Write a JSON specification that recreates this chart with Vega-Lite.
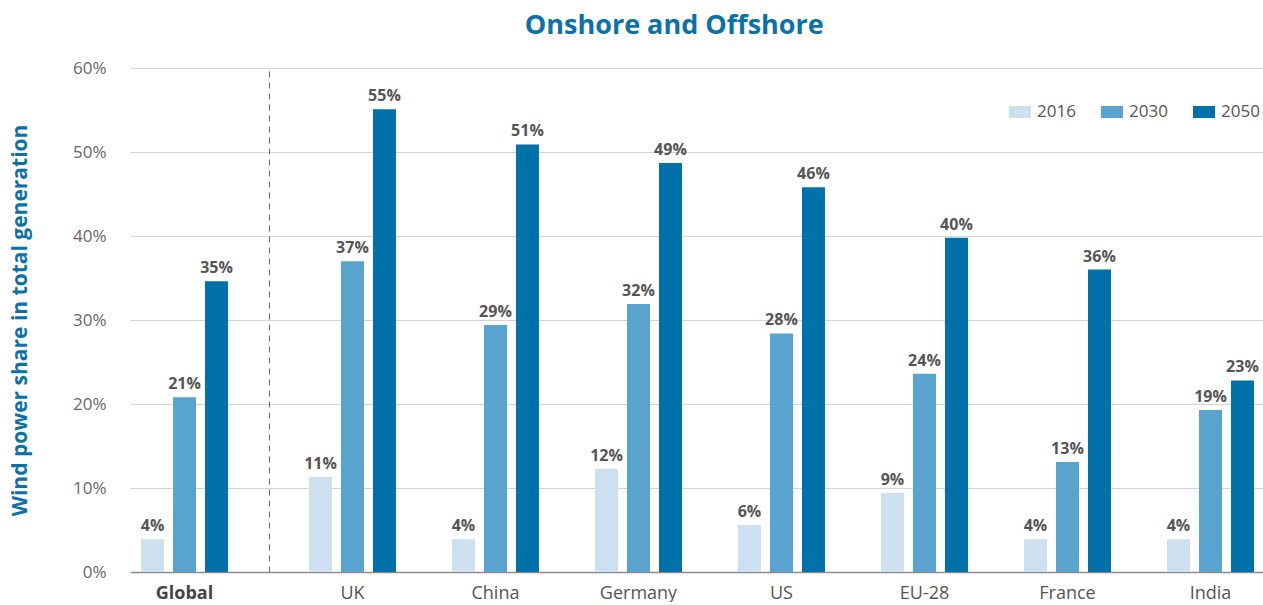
{
  "$schema": "https://vega.github.io/schema/vega-lite/v6.json",
  "padding": {"left": 9, "top": 12, "right": 0, "bottom": 0},
  "background": "white",
  "bounds": "flush",
  "spacing": 0,
  "title": {"text": "Onshore and Offshore", "fontSize": 27, "font": "Open Sans", "fontWeight": "bold", "color": "#0a72a9", "anchor": "middle", "offset": 19, "dx": 38},
  "config": {"view": {"stroke": null}, "font": "Open Sans"},
  "data": {"values": [
    {"region": "Global", "year": "2016", "value": 0.039},
    {"region": "Global", "year": "2030", "value": 0.208},
    {"region": "Global", "year": "2050", "value": 0.346},
    {"region": "UK", "year": "2016", "value": 0.113},
    {"region": "UK", "year": "2030", "value": 0.370},
    {"region": "UK", "year": "2050", "value": 0.551},
    {"region": "China", "year": "2016", "value": 0.039},
    {"region": "China", "year": "2030", "value": 0.294},
    {"region": "China", "year": "2050", "value": 0.509},
    {"region": "Germany", "year": "2016", "value": 0.123},
    {"region": "Germany", "year": "2030", "value": 0.319},
    {"region": "Germany", "year": "2050", "value": 0.487},
    {"region": "US", "year": "2016", "value": 0.056},
    {"region": "US", "year": "2030", "value": 0.284},
    {"region": "US", "year": "2050", "value": 0.458},
    {"region": "EU-28", "year": "2016", "value": 0.094},
    {"region": "EU-28", "year": "2030", "value": 0.236},
    {"region": "EU-28", "year": "2050", "value": 0.398},
    {"region": "France", "year": "2016", "value": 0.039},
    {"region": "France", "year": "2030", "value": 0.131},
    {"region": "France", "year": "2050", "value": 0.360},
    {"region": "India", "year": "2016", "value": 0.039},
    {"region": "India", "year": "2030", "value": 0.193},
    {"region": "India", "year": "2050", "value": 0.228}
  ]},
  "resolve": {
    "scale": {"x": "independent", "xOffset": "independent", "y": "independent", "color": "independent"},
    "axis": {"x": "independent", "y": "independent"},
    "legend": {"color": "independent"}
  },
  "hconcat": [
    {
      "width": 139,
      "height": 504,
      "transform": [{"filter": "datum.region === 'Global'"}],
      "encoding": {
        "x": {"field": "region", "type": "nominal",
          "scale": {"paddingInner": 0.3916, "paddingOuter": 0.1818, "align": 0.2115, "round": false},
          "axis": {"title": null, "labelAngle": 0, "labelFontSize": 18, "labelFontWeight": "bold", "labelColor": "#444", "ticks": false, "tickSize": 0, "labelPadding": 12, "domainColor": "#8c8c8c", "domainWidth": 1.5}},
        "xOffset": {"field": "year", "type": "nominal", "scale": {"paddingInner": 0.28, "paddingOuter": 0, "round": false}},
        "y": {"field": "value", "type": "quantitative",
          "scale": {"domain": [0, 0.6], "nice": false},
          "axis": {"title": "Wind power share in total generation", "format": ".0%", "values": [0, 0.1, 0.2, 0.3, 0.4, 0.5, 0.6],
            "domain": false, "ticks": false, "tickSize": 0, "labelPadding": 24, "labelFontSize": 17, "labelColor": "#666",
            "gridColor": "#d4d4d4", "titleFontSize": 21, "titleColor": "#0a72a9", "titleFontWeight": "bold", "titlePadding": 42}}
      },
      "layer": [
        {"mark": {"type": "bar"},
          "encoding": {"color": {"field": "year", "type": "nominal",
            "scale": {"domain": ["2016", "2030", "2050"], "range": ["#cce0ef", "#58a4cf", "#0071a9"]}, "legend": null}}},
        {"mark": {"type": "text", "fontSize": 16, "fontWeight": "bold", "color": "#555", "dy": -8, "baseline": "alphabetic"},
          "encoding": {"text": {"field": "value", "type": "quantitative", "format": ".0%"}}}
      ]
    },
    {
      "width": 994,
      "height": 504,
      "transform": [{"filter": "datum.region !== 'Global'"}],
      "encoding": {
        "x": {"field": "region", "type": "nominal", "sort": ["UK", "China", "Germany", "US", "EU-28", "France", "India"],
          "scale": {"paddingInner": 0.3916, "paddingOuter": 0.1713, "align": 0.816, "round": false},
          "axis": {"title": null, "labelAngle": 0, "labelFontSize": 18, "labelColor": "#555", "ticks": false, "tickSize": 0, "labelPadding": 12, "domainColor": "#8c8c8c", "domainWidth": 1.5}},
        "xOffset": {"field": "year", "type": "nominal", "scale": {"paddingInner": 0.28, "paddingOuter": 0, "round": false}},
        "y": {"field": "value", "type": "quantitative",
          "scale": {"domain": [0, 0.6], "nice": false},
          "axis": {"title": null, "values": [0, 0.1, 0.2, 0.3, 0.4, 0.5, 0.6], "labels": false, "ticks": false, "tickSize": 0,
            "domain": true, "domainDash": [6, 5], "domainColor": "#666", "domainWidth": 1, "gridColor": "#d4d4d4"}}
      },
      "layer": [
        {"mark": {"type": "bar"},
          "encoding": {"color": {"field": "year", "type": "nominal",
            "scale": {"domain": ["2016", "2030", "2050"], "range": ["#cce0ef", "#58a4cf", "#0071a9"]},
            "legend": {"title": null, "orient": "none", "legendX": 740, "legendY": 33, "direction": "horizontal",
              "symbolType": "M-1,-0.55H1V0.55H-1Z", "symbolSize": 484, "symbolStrokeWidth": 0,
              "labelFontSize": 17, "labelColor": "#555", "labelOffset": 6, "columnPadding": 25, "padding": 0}}}},
        {"mark": {"type": "text", "fontSize": 16, "fontWeight": "bold", "color": "#555", "dy": -8, "baseline": "alphabetic"},
          "encoding": {"text": {"field": "value", "type": "quantitative", "format": ".0%"}}}
      ]
    }
  ]
}
